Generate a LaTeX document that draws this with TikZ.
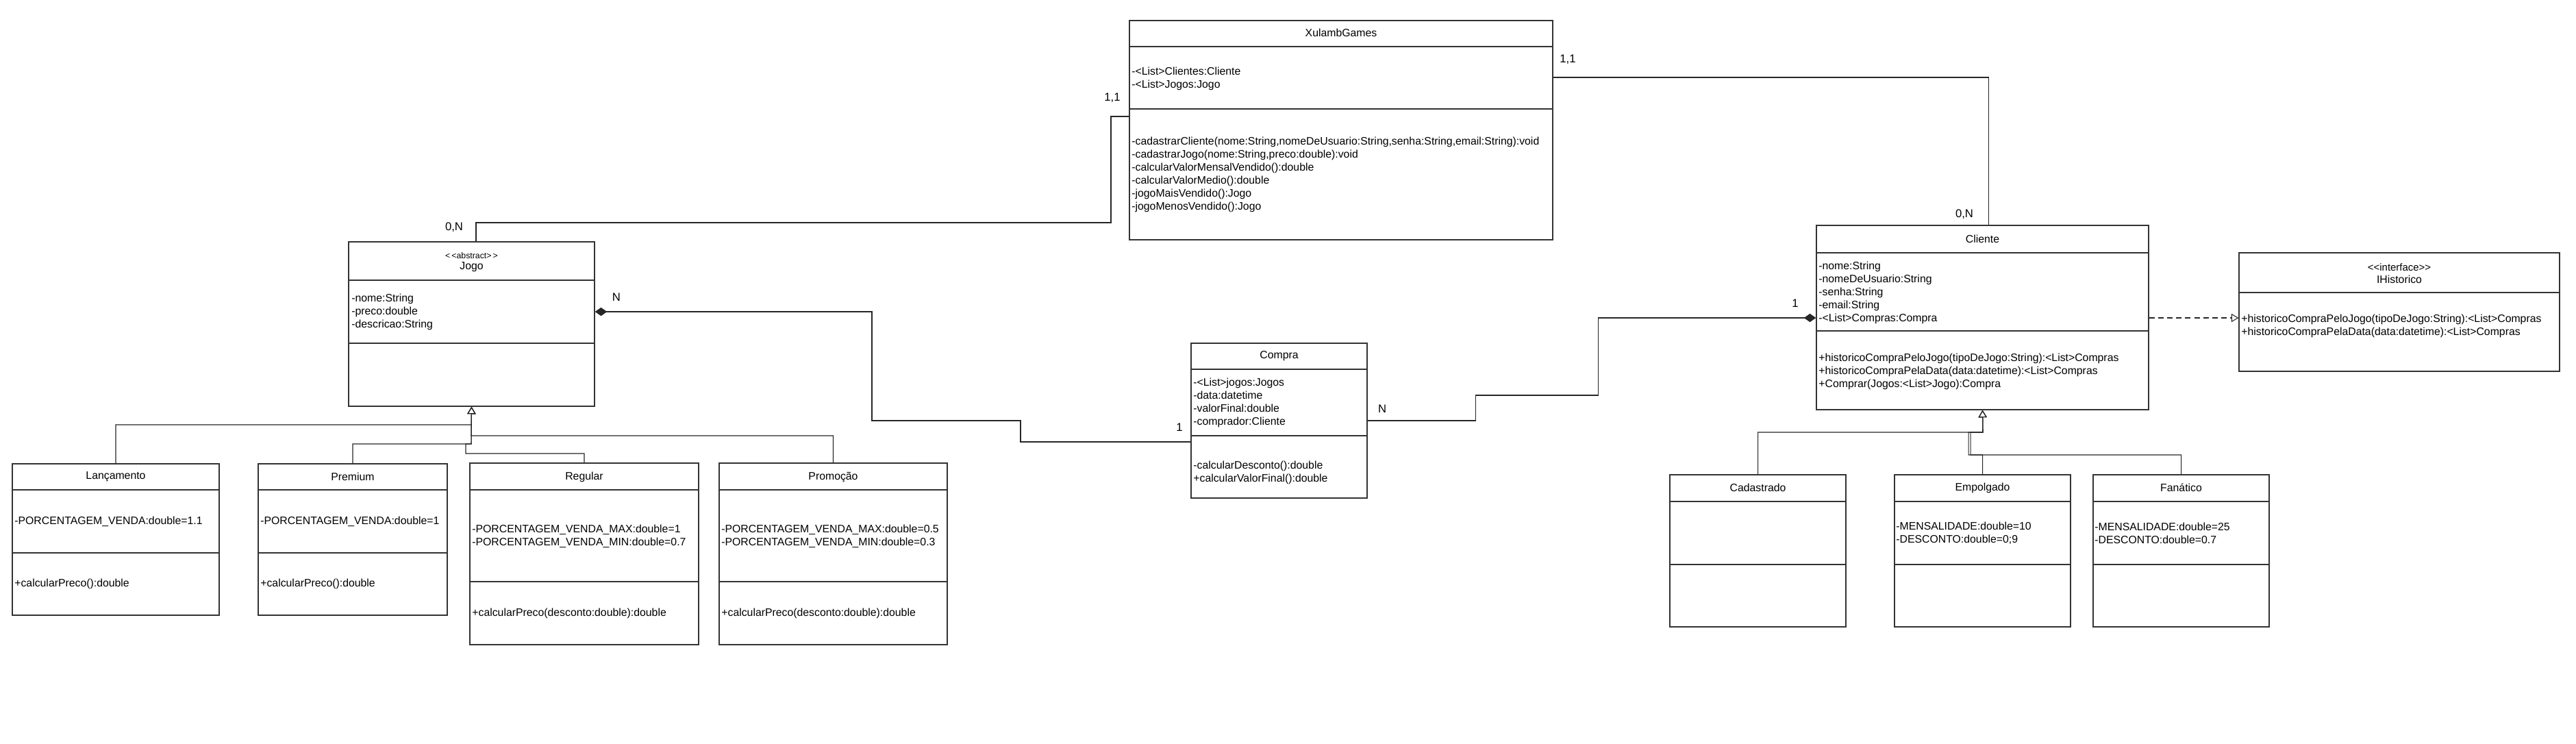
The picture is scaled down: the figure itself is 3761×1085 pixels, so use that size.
\documentclass[tikz,border=0pt]{standalone}
\usepackage{fontspec}
\setmainfont{Liberation Sans}
\usetikzlibrary{arrows.meta,positioning,fit}

\tikzset{
  boxline/.style={draw=black!80, line width=0.8pt},
  classbox/.style={boxline, inner sep=0pt},
  classname/.style={inner sep=0pt, font=\fontsize{9}{10.8}\selectfont},
  member/.style={anchor=west, align=left, inner sep=0pt, font=\fontsize{9}{10.8}\selectfont},
  mult/.style={inner sep=0pt, font=\fontsize{9.5}{11}\selectfont},
  assoc/.style={draw=black!85, line width=0.6pt},
  comp/.style={assoc, {Diamond[length=10pt,width=7pt]}-},
  inherit/.style={assoc, -{Triangle[open,length=6pt,width=7pt]}},
  realize/.style={assoc, dash pattern=on 4.5pt off 3pt, -{Triangle[open,length=6pt,width=7pt]}},
}

\begin{document}
\begin{tikzpicture}[x=0.02cm, y=-0.02cm]

\useasboundingbox (0,0) rectangle (3761,1085);

  % Top: XulambGames

\node (xulamb) [classbox, fit={(1649,30) (2267,350)}] {};
\draw[boxline] (xulamb.west |- 0,68) -- (xulamb.east |- 0,68);
\draw[boxline] (xulamb.west |- 0,159) -- (xulamb.east |- 0,159);
\node (xulambT) at (xulamb.north |- 0,48) [classname] {XulambGames};
\node (xulambA) at (1652,114.5) [member] {-<List>Clientes:Cliente\\-<List>Jogos:Jogo};
\node (xulambM) at (1652,255) [member] {-cadastrarCliente(nome:String,nomeDeUsuario:String,senha:String,email:String):void\\-cadastrarJogo(nome:String,preco:double):void\\-calcularValorMensalVendido():double\\-calcularValorMedio():double\\-jogoMaisVendido():Jogo\\-jogoMenosVendido():Jogo};

  % Left side: Jogo and its subclasses

\node (jogo) [classbox, fit={(509,353) (868,593)}] {};
\draw[boxline] (jogo.west |- 0,409) -- (jogo.east |- 0,409);
\draw[boxline] (jogo.west |- 0,501) -- (jogo.east |- 0,501);
\node (jogoS) at (jogo.north |- 0,373) [classname, font=\fontsize{7}{8}\selectfont] {<\,<abstract>\,>};
\node (jogoT) at (jogo.north |- 0,390) [classname] {Jogo};
\node (jogoA) at (513,455) [member] {-nome:String\\-preco:double\\-descricao:String};

\node (lanc) [classbox, fit={(18,677) (320,898)}] {};
\draw[boxline] (lanc.west |- 0,715) -- (lanc.east |- 0,715);
\draw[boxline] (lanc.west |- 0,807) -- (lanc.east |- 0,807);
\node (lancT) at (lanc.north |- 0,696) [classname] {Lançamento};
\node (lancA) at (21,761) [member] {-PORCENTAGEM\_VENDA:double=1.1};
\node (lancM) at (21,852) [member] {+calcularPreco():double};

\node (prem) [classbox, fit={(377,677) (653,898)}] {};
\draw[boxline] (prem.west |- 0,715) -- (prem.east |- 0,715);
\draw[boxline] (prem.west |- 0,807) -- (prem.east |- 0,807);
\node (premT) at (prem.north |- 0,696) [classname] {Premium};
\node (premA) at (380,761) [member] {-PORCENTAGEM\_VENDA:double=1};
\node (premM) at (380,852) [member] {+calcularPreco():double};

\node (reg) [classbox, fit={(686,676) (1020,941)}] {};
\draw[boxline] (reg.west |- 0,715) -- (reg.east |- 0,715);
\draw[boxline] (reg.west |- 0,849) -- (reg.east |- 0,849);
\node (regT) at (reg.north |- 0,696) [classname] {Regular};
\node (regA) at (689,782.5) [member] {-PORCENTAGEM\_VENDA\_MAX:double=1\\-PORCENTAGEM\_VENDA\_MIN:double=0.7};
\node (regM) at (689,895) [member] {+calcularPreco(desconto:double):double};

\node (promo) [classbox, fit={(1050,676) (1383,941)}] {};
\draw[boxline] (promo.west |- 0,715) -- (promo.east |- 0,715);
\draw[boxline] (promo.west |- 0,849) -- (promo.east |- 0,849);
\node (promoT) at (promo.north |- 0,696) [classname] {Promoção};
\node (promoA) at (1053,782.5) [member] {-PORCENTAGEM\_VENDA\_MAX:double=0.5\\-PORCENTAGEM\_VENDA\_MIN:double=0.3};
\node (promoM) at (1053,895) [member] {+calcularPreco(desconto:double):double};

  % Middle: Compra

\node (compra) [classbox, fit={(1739,501) (1996,727)}] {};
\draw[boxline] (compra.west |- 0,539) -- (compra.east |- 0,539);
\draw[boxline] (compra.west |- 0,636) -- (compra.east |- 0,636);
\node (compraT) at (compra.north |- 0,520) [classname] {Compra};
\node (compraA) at (1742,588) [member] {-<List>jogos:Jogos\\-data:datetime\\-valorFinal:double\\-comprador:Cliente};
\node (compraM) at (1742,689.5) [member] {-calcularDesconto():double\\+calcularValorFinal():double};

  % Right side: Cliente, IHistorico and subclasses

\node (cliente) [classbox, fit={(2652,329) (3137,598)}] {};
\draw[boxline] (cliente.west |- 0,369) -- (cliente.east |- 0,369);
\draw[boxline] (cliente.west |- 0,483) -- (cliente.east |- 0,483);
\node (clienteT) at (cliente.north |- 0,349) [classname] {Cliente};
\node (clienteA) at (2655,427) [member] {-nome:String\\-nomeDeUsuario:String\\-senha:String\\-email:String\\-<List>Compras:Compra};
\node (clienteM) at (2655,542) [member] {+historicoCompraPeloJogo(tipoDeJogo:String):<List>Compras\\+historicoCompraPelaData(data:datetime):<List>Compras\\+Comprar(Jogos:<List>Jogo):Compra};

\node (ihist) [classbox, fit={(3269,369) (3737,542)}] {};
\draw[boxline] (ihist.west |- 0,427) -- (ihist.east |- 0,427);
\node (ihistS) at (ihist.north |- 0,390) [classname, font=\fontsize{8.5}{10}\selectfont] {<{}<interface>{}>};
\node (ihistT) at (ihist.north |- 0,408) [classname] {IHistorico};
\node (ihistM) at (3272,476) [member] {+historicoCompraPeloJogo(tipoDeJogo:String):<List>Compras\\+historicoCompraPelaData(data:datetime):<List>Compras};

\node (cad) [classbox, fit={(2438,693) (2695,915)}] {};
\draw[boxline] (cad.west |- 0,732) -- (cad.east |- 0,732);
\draw[boxline] (cad.west |- 0,824) -- (cad.east |- 0,824);
\node (cadT) at (cad.north |- 0,712) [classname] {Cadastrado};

\node (emp) [classbox, fit={(2766,693) (3023,915)}] {};
\draw[boxline] (emp.west |- 0,732) -- (emp.east |- 0,732);
\draw[boxline] (emp.west |- 0,824) -- (emp.east |- 0,824);
\node (empT) at (emp.north |- 0,712) [classname] {Empolgado};
\node (empA) at (2768,778.5) [member] {-MENSALIDADE:double=10\\-DESCONTO:double=0;9};

\node (fan) [classbox, fit={(3056,693) (3313,915)}] {};
\draw[boxline] (fan.west |- 0,732) -- (fan.east |- 0,732);
\draw[boxline] (fan.west |- 0,824) -- (fan.east |- 0,824);
\node (fanT) at (fan.north |- 0,712) [classname] {Fanático};
\node (fanA) at (3058,778.5) [member] {-MENSALIDADE:double=25\\-DESCONTO:double=0.7};

  % Associations

\draw[assoc] (xulamb.west |- 0,170) -| (1622,325) -| (jogo.north -| 695,0);
\node (mXJa) at (1624,143) [mult] {1,1};
\node (mXJb) at (663,332) [mult] {0,N};

\draw[assoc] (xulamb.east |- 0,113) -| (cliente.north -| 2903,0);
\node (mXCa) at (2289,87) [mult] {1,1};
\node (mXCb) at (2868,313) [mult] {0,N};

\draw[comp] (jogo.east |- 0,455) -| (1273,614) -| (1490,645) -- (compra.west |- 0,645);
\node (mJCa) at (900,434) [mult] {N};
\node (mJCb) at (1722,624) [mult] {1};

\draw[comp] (cliente.west |- 0,464) -| (2333,577) -| (2154,614) -- (compra.east |- 0,614);
\node (mCCa) at (2621,443) [mult] {1};
\node (mCCb) at (2018,597) [mult] {N};

\draw[realize] (cliente.east |- 0,464) -- (ihist.west |- 0,464);

  % Generalizations

\draw[inherit] (lanc.north) |- (688,620) -- (jogo.south);
\draw[inherit] (prem.north) |- (688,648) -- (jogo.south);
\draw[inherit] (reg.north) |- (680,662) |- (688,648) -- (jogo.south);
\draw[inherit] (promo.north) |- (688,636) -- (jogo.south);

\draw[inherit] (cad.north) |- (2895,631) -- (cliente.south);
\draw[inherit] (emp.north) |- (2874,664) |- (2895,631) -- (cliente.south);
\draw[inherit] (fan.north) |- (2877,664) |- (2895,631) -- (cliente.south);

\end{tikzpicture}
\end{document}
